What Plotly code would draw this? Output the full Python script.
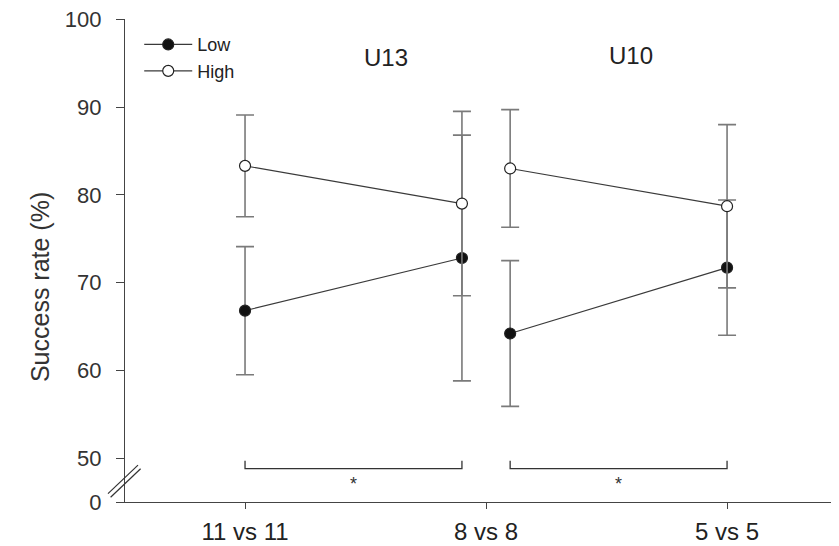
import plotly.graph_objects as go

# ---------------- data ----------------
categories = ["11 vs 11", "8 vs 8", "5 vs 5"]
groups = ["U13", "U10"]
# U13: 11 vs 11, 8 vs 8 ; U10: 8 vs 8, 5 vs 5
u13_low_mean = [66.8, 72.8]
u13_low_sd = [7.3, 14.0]
u13_high_mean = [83.3, 79.0]
u13_high_sd = [5.8, 10.5]
u10_low_mean = [64.2, 71.7]
u10_low_sd = [8.3, 7.7]
u10_high_mean = [83.0, 78.7]
u10_high_sd = [6.7, 9.3]
y_tick_values = [0, 50, 60, 70, 80, 90, 100]

# ---------------- layout helpers ----------------
FONT = "Liberation Sans, Arial, sans-serif"
SHIFT = 0.1           # horizontal offset of the two groups at the shared "8 vs 8"
BREAK_LOW = 45        # plot coordinate used for value 0 (broken axis)

u13_x = [0, 1 - SHIFT]
u10_x = [1 + SHIFT, 2]

def ymap(v):
    return v if v >= 50 else BREAK_LOW + (v / 50.0) * (50 - BREAK_LOW)

fig = go.Figure()

def add_series(x, mean, sd, name, filled, showlegend):
    fig.add_trace(go.Scatter(
        x=x, y=mean, name=name, legendgroup=name, showlegend=showlegend,
        mode="lines+markers",
        line=dict(color="#3a3a3a", width=1.2),
        marker=dict(size=11, symbol="circle",
                    color="#111111" if filled else "white",
                    line=dict(color="#222222", width=1.2)),
        error_y=dict(type="data", array=sd, visible=True,
                     color="#7a7a7a", thickness=1.6, width=9),
    ))

add_series(u13_x, u13_low_mean, u13_low_sd, "Low", True, True)
add_series(u10_x, u10_low_mean, u10_low_sd, "Low", True, False)
add_series(u13_x, u13_high_mean, u13_high_sd, "High", False, True)
add_series(u10_x, u10_high_mean, u10_high_sd, "High", False, False)

# significance brackets
shapes = []
BR_Y, BR_TIP = 48.8, 49.7
for gx in (u13_x, u10_x):
    shapes.append(dict(type="path", xref="x", yref="y",
                       path=f"M {gx[0]},{BR_TIP} L {gx[0]},{BR_Y} L {gx[1]},{BR_Y} L {gx[1]},{BR_TIP}",
                       line=dict(color="#333333", width=1.3)))

# axis break marks (paper x, data y)
def px2paper(px):
    return (px - 125) / 711.0
for dx, dy in ((0, 0), (2.6, 3.6)):
    shapes.append(dict(type="line", xref="paper", yref="y",
                       x0=px2paper(108 + dx), x1=px2paper(138 + dx),
                       y0=45.95 - dy / 8.78, y1=49.2 - dy / 8.78,
                       line=dict(color="#333333", width=1.2)))

annotations = []
for gx in (u13_x, u10_x):
    annotations.append(dict(x=(gx[0] + gx[1]) / 2, y=47.1, xref="x", yref="y",
                            text="*", showarrow=False,
                            font=dict(family=FONT, size=18, color="#333333")))
annotations.append(dict(x=0.585, y=95.7, xref="x", yref="y", text=groups[0],
                        showarrow=False, font=dict(family=FONT, size=24, color="#222222")))
annotations.append(dict(x=1.60, y=95.9, xref="x", yref="y", text=groups[1],
                        showarrow=False, font=dict(family=FONT, size=24, color="#222222")))
annotations.append(dict(x=-0.1195, y=0.445, xref="paper", yref="paper",
                        text="Success rate (%)", textangle=-90, showarrow=False,
                        xanchor="center", yanchor="middle",
                        font=dict(family=FONT, size=25, color="#333333")))

# the page has an 8px body margin: plot area at page x 125..836, y 19..502
fig.update_layout(
    width=839, height=546,
    margin=dict(l=117, r=11, t=11, b=52, autoexpand=False),
    plot_bgcolor="white", paper_bgcolor="white",
    font=dict(family=FONT, color="#333333"),
    shapes=shapes, annotations=annotations,
    legend=dict(x=0.02, y=0.985, xanchor="left", yanchor="top",
                bgcolor="rgba(0,0,0,0)", font=dict(family=FONT, size=18, color="#222222"),
                traceorder="grouped", tracegroupgap=0, itemwidth=48),
    showlegend=True,
)
fig.update_xaxes(
    range=[-0.498, 2.452], tickmode="array",
    tickvals=list(range(len(categories))), ticktext=categories,
    showline=True, linecolor="#444444", linewidth=1.3,
    ticks="outside", ticklen=6, tickcolor="#444444", tickwidth=1.3,
    showgrid=False, zeroline=False,
    tickfont=dict(family=FONT, size=24, color="#222222"),
    ticklabelstandoff=2,
    automargin=False,
)
fig.update_yaxes(
    range=[BREAK_LOW, 100.03], tickmode="array",
    tickvals=[ymap(v) for v in y_tick_values], ticktext=[str(v) for v in y_tick_values],
    showline=True, linecolor="#444444", linewidth=1.3,
    ticks="outside", ticklen=8, tickcolor="#444444", tickwidth=1.3,
    showgrid=False, zeroline=False,
    tickfont=dict(family=FONT, size=22, color="#333333"),
    ticklabelstandoff=10, ticklabeloverflow="allow",
    automargin=False,
)

fig.write_html("out.html")
